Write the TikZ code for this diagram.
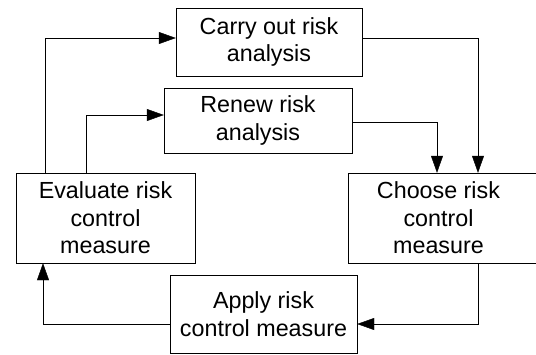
\documentclass[tikz,border=0pt]{standalone}
\usepackage{fontspec}
\setmainfont{Liberation Sans}
\usetikzlibrary{positioning, arrows.meta}
\tikzset{
line width=1pt, % thin lines as in the drawing
>={Triangle[length=17pt, width=12pt]}, % filled arrow heads
}

\begin{document}
\begin{tikzpicture}[x=1pt, y=-1pt, box/.style = {draw, align=center, inner sep=0pt, font=\fontsize{23.3}{27.6}\selectfont}] 
    \useasboundingbox (0,0) rectangle (536,354);
    \node[box, minimum width=186pt, minimum height=68pt] (carry) at (269,42) {Carry out risk\\analysis}; 
    \node[box, minimum width=188pt, minimum height=65pt] (renew) at (258,120.5) {Renew risk\\analysis}; 
    \node[box, minimum width=179pt, minimum height=90pt] (evaluate) at (105.5,218) {Evaluate risk\\control\\measure}; 
    \node[box, minimum width=200pt, minimum height=90pt, label={[align=center, font=\fontsize{23.3}{27.6}\selectfont, xshift=-9.5pt]center:Choose risk\\control\\measure}] (choose) at (448,218) {}; 
    \node[box, minimum width=187pt, minimum height=78pt] (apply) at (263.5,314) {Apply risk\\control measure}; 
    \draw [->] ([xshift=-60.5pt]evaluate.north) |- ([yshift=4pt]carry.west); 
    \draw [->] ([xshift=-19.5pt]evaluate.north) |- ([yshift=5.5pt]renew.west);
    \draw [->] ([yshift=4pt]carry.east) -| ([xshift=30pt]choose.north);
    \draw [->] ([yshift=-1.5pt]renew.east) -| ([xshift=-11pt]choose.north);
    \draw [->] ([xshift=30pt]choose.south) |- ([yshift=-10pt]apply.east);
    \draw [->] ([yshift=-10pt]apply.west) -| ([xshift=-62.5pt]evaluate.south);
\end{tikzpicture}
\end{document}
